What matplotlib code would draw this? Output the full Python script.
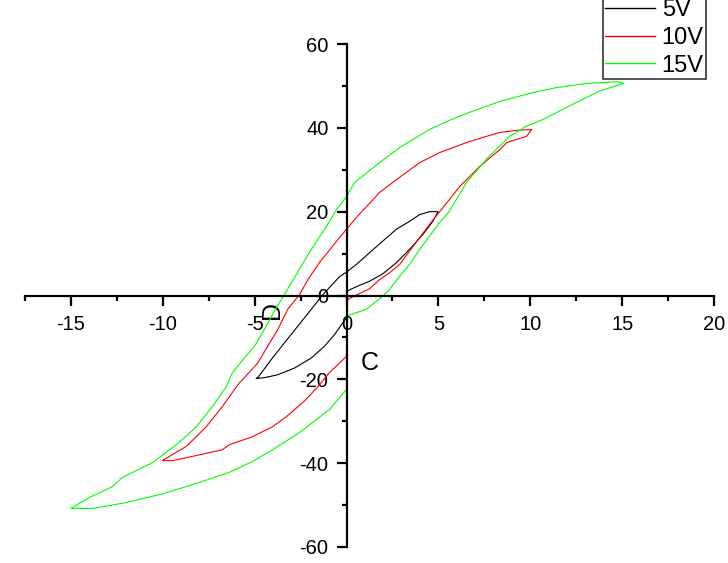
import matplotlib
matplotlib.use('Agg')
import matplotlib.pyplot as plt
from matplotlib.ticker import MultipleLocator

plt.rcParams['font.family'] = ['Liberation Sans', 'DejaVu Sans']
plt.rcParams['axes.unicode_minus'] = False

# 5V loop (start near origin -> +Vmax -> -Vmax -> back to 0)
v5 = [0, 0.53, 1.25, 1.98, 2.71, 3.43, 4.16, 4.70, 4.98,
      4.52, 3.98, 3.43, 2.71, 1.98, 1.25, 0.53, 0, -0.38, -1.29, -1.92, -2.65, -3.38, -4.10, -4.83, -4.92,
      -4.47, -3.74, -2.83, -1.92, -1.20, -0.65, -0.20, 0]
p5 = [1.0, 2.1, 3.4, 5.2, 7.8, 11.0, 14.6, 17.7, 20.0,
      20.0, 19.3, 17.7, 15.8, 13.0, 10.2, 7.4, 5.6, 4.5, 0.2, -3.3, -7.3, -11.3, -15.3, -19.6, -19.8,
      -19.6, -18.9, -17.3, -14.9, -12.1, -9.3, -6.5, -5.3]

# 10V loop
v10 = [0, 0.71, 1.25, 1.8, 2.34, 2.89, 3.43, 3.98, 4.52, 5.07, 5.6, 6.16, 7.25, 8.34, 8.72, 9.81, 10.08,
       9.26, 8.34, 7.41, 6.54, 5.07, 3.98, 2.89, 1.8, 1.45, 0.53, 0, -0.38, -1.47, -2.1, -2.56, -3.2, -3.74,
       -4.29, -4.83, -5.56, -5.83, -6.76, -7.63, -8.72, -10.03,
       -9.48, -8.72, -6.76, -6.38, -5.12, -4.03, -3.27, -2.56, -2.2, -1.47, -0.93, 0]
p10 = [-1.1, 0.5, 1.6, 3.8, 5.4, 7.4, 10.6, 13.8, 17.0, 20.0, 22.9, 26.0, 30.8, 34.8, 36.5, 38.0, 39.6,
       39.4, 38.9, 37.7, 36.5, 34.1, 31.7, 28.2, 24.6, 22.9, 18.6, 15.8, 13.8, 7.9, 3.8, 0.24, -3.3, -8.1,
       -12.1, -16.1, -19.6, -20.8, -26.5, -31.3, -36.0, -39.4,
       -39.4, -38.7, -36.8, -35.6, -33.7, -31.3, -28.9, -26.2, -24.8, -21.3, -18.4, -14.5]

# 15V loop
v15 = [0, 1.07, 1.8, 2.34, 2.89, 3.43, 3.98, 4.52, 5.07, 5.6, 6.52, 7.61, 8.88, 9.79, 10.7, 12.52, 13.79, 15.1,
       14.77, 13.08, 11.44, 10.14, 8.34, 6.70, 5.61, 4.52, 2.89, 1.80, 0.44, 0, -0.54, -1.09, -2.02, -3.38,
       -3.92, -4.47, -5.01, -5.56, -6.21, -6.54, -7.3, -8.17, -9.26, -10.57, -12.2, -12.75, -14.0, -15.0,
       -13.8, -12.0, -10.0, -8.0, -6.38, -5.12, -4.03, -2.56, -0.93, 0]
p15 = [-4.9, -3.3, -0.8, 1.4, 4.6, 7.4, 11.0, 14.2, 17.4, 20.1, 26.9, 32.5, 38.0, 40.4, 42.0, 46.1, 48.8, 50.6,
       51.0, 50.6, 49.6, 48.4, 46.3, 43.7, 41.8, 39.6, 35.3, 31.7, 27.0, 23.6, 20.5, 16.5, 10.3, 0.24,
       -3.7, -8.1, -12.1, -14.9, -18.4, -21.7, -26.5, -31.3, -35.6, -39.9, -43.4, -45.6, -48.2, -50.8,
       -50.8, -49.4, -47.3, -44.6, -42.2, -39.6, -36.8, -32.7, -27.2, -22.4]

labels = ['5V', '10V', '15V']
colors = ['black', '#ff0000', '#00ff00']

fig = plt.figure(figsize=(7.28, 5.63), dpi=100)
ax = fig.add_axes([25/728, 1 - 547/563, 689/728, 503/563])

for v, p, lab, c in zip([v5, v10, v15], [p5, p10, p15], labels, colors):
    ax.plot(v, p, color=c, lw=0.8, label=lab)

ax.set_xlim(-17.5, 20)
ax.set_ylim(-60, 60)

# axes crossing at the origin
ax.spines['left'].set_position(('data', 0))
ax.spines['bottom'].set_position(('data', 0))
ax.spines['top'].set_visible(False)
ax.spines['right'].set_visible(False)
ax.spines['left'].set_linewidth(1.6)
ax.spines['bottom'].set_linewidth(1.6)

ax.xaxis.set_major_locator(MultipleLocator(5))
ax.xaxis.set_minor_locator(MultipleLocator(2.5))
ax.yaxis.set_major_locator(MultipleLocator(20))
ax.yaxis.set_minor_locator(MultipleLocator(10))
ax.tick_params(which='major', direction='out', length=7, width=1.6, labelsize=14.5)
ax.tick_params(which='minor', direction='out', length=3.5, width=1.6)
ax.tick_params(axis='x', which='major', pad=7)
ax.tick_params(axis='y', which='major', pad=6)

ax.set_xlabel('C', fontsize=18)
ax.xaxis.set_label_coords(0.5007, 0.39)
ax.set_ylabel('D', fontsize=18)
ax.yaxis.set_label_coords(0.376, 0.471)

leg = ax.legend(loc='lower right', bbox_to_anchor=(706/728, 1 - 79/563), bbox_transform=fig.transFigure,
                fontsize=17, frameon=True, fancybox=False, shadow=False, borderaxespad=0,
                handlelength=2.1, handletextpad=0.3, labelspacing=0.24, borderpad=0.1)
leg.get_frame().set_edgecolor('black')
leg.get_frame().set_linewidth(1.2)
for line in leg.get_lines():
    line.set_linewidth(1.0)

fig.savefig('out.png', dpi=100)
